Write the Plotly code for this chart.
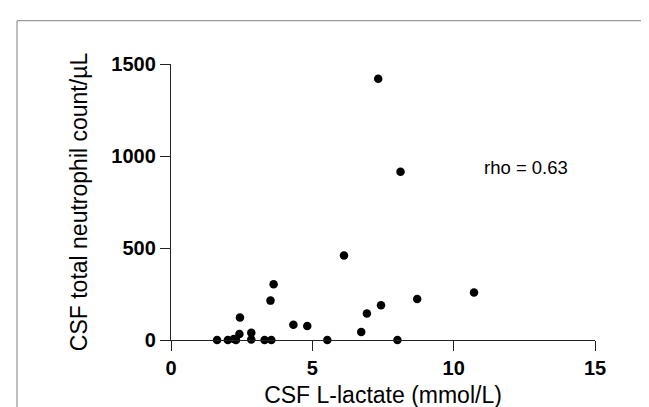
import plotly.graph_objects as go

lactate = [1.63, 2.01, 2.22, 2.30, 2.42, 2.44, 2.84, 2.84, 3.31, 3.55, 3.52, 3.63,
           4.33, 4.82, 5.53, 6.12, 6.73, 6.93, 7.43, 8.01, 8.71, 10.72, 7.33, 8.12]
neutrophils = [0, 0, 5, 0, 32, 122, 40, 3, 0, 0, 214, 303,
               83, 76, 0, 459, 44, 144, 189, 0, 223, 258, 1420, 915]
x_ticks = [0, 5, 10, 15]
y_ticks = [0, 500, 1000, 1500]

W, H = 649, 407
L, R, T, B = 163, 62, 56, 69
pw, ph = W - L - R, H - T - B

FONT = "Liberation Sans, Arial, sans-serif"

fig = go.Figure(go.Scatter(
    x=lactate, y=neutrophils, mode="markers",
    marker=dict(color="black", size=8.5),
    cliponaxis=False, showlegend=False,
))

axis_common = dict(
    showline=True, linecolor="#222", linewidth=1.3,
    ticks="outside", ticklen=10, tickwidth=1.3, tickcolor="#222",
    showgrid=False, zeroline=False,
    tickfont=dict(family=FONT, size=20, color="black", weight="bold"),
)

fig.update_layout(
    width=W, height=H,
    margin=dict(l=L, r=R, t=T, b=B, pad=0),
    plot_bgcolor="white", paper_bgcolor="white",
    xaxis=dict(range=[0, 15], tickvals=x_ticks, **axis_common,
               title=dict(text="CSF L-lactate (mmol/L)", standoff=8,
                          font=dict(family=FONT, size=23, color="black"))),
    yaxis=dict(range=[0, 1500], tickvals=y_ticks, **axis_common,
               title=dict(text="CSF total neutrophil count/µL", standoff=17,
                          font=dict(family=FONT, size=23, color="black"))),
    annotations=[dict(x=11, y=938, xref="x", yref="y", text="rho = 0.63",
                      showarrow=False, xanchor="left", yanchor="middle",
                      font=dict(family=FONT, size=18.5, color="black"))],
)

# outer frame (top and left edges only)
def px_to_paper_x(px):
    return (px - L) / pw

def px_to_paper_y(py):
    return (H - B - py) / ph

fig.add_shape(type="line", xref="paper", yref="paper",
              x0=px_to_paper_x(9), x1=px_to_paper_x(W + 5),
              y0=px_to_paper_y(11.7), y1=px_to_paper_y(11.7),
              line=dict(color="#9a9a9a", width=1.3))
fig.add_shape(type="line", xref="paper", yref="paper",
              x0=px_to_paper_x(9), x1=px_to_paper_x(9),
              y0=px_to_paper_y(11.7), y1=px_to_paper_y(H + 5),
              line=dict(color="#9a9a9a", width=1.3))

fig.write_html("out.html")
